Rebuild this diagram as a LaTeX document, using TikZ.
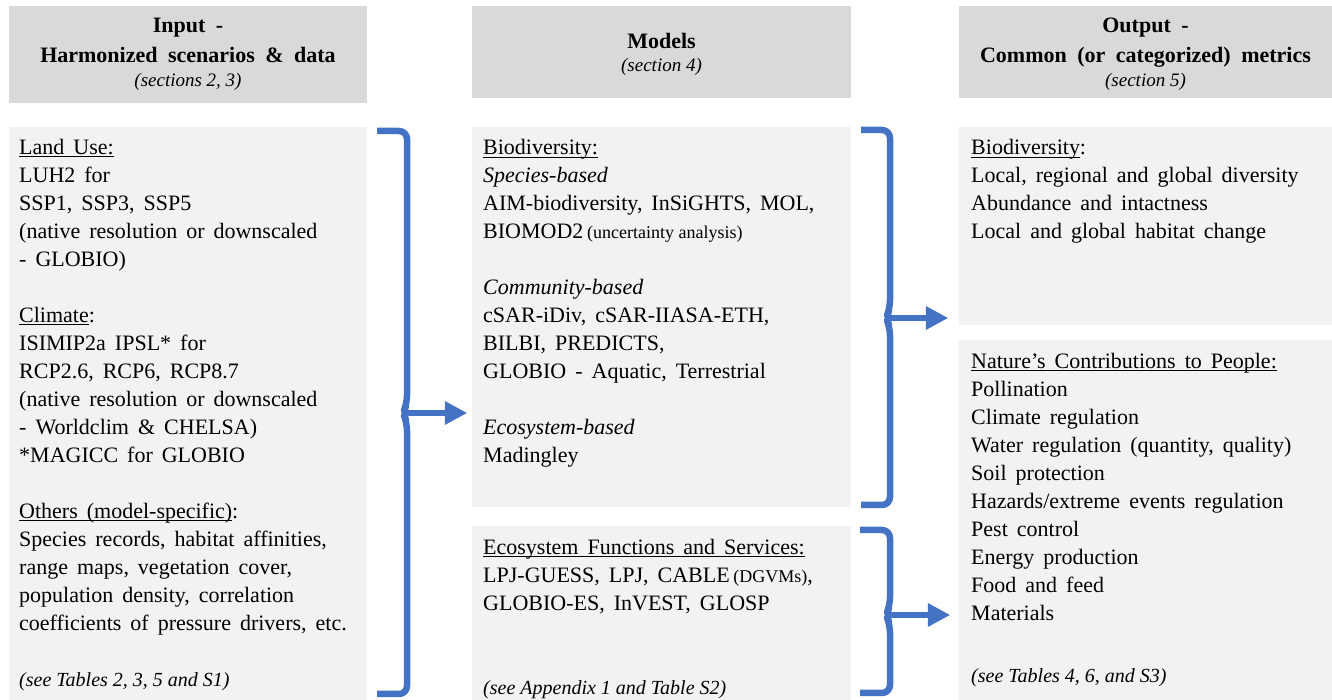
\documentclass[tikz,border=0pt]{standalone}
\usepackage{fontspec}
\setmainfont{Liberation Serif}
\usetikzlibrary{arrows.meta}
\definecolor{hdrgray}{HTML}{D9D9D9}
\definecolor{boxgray}{HTML}{F2F2F2}
\definecolor{braceblue}{HTML}{4472C4}
\newsavebox\undlbox
\newcommand{\undl}[1]{\sbox\undlbox{#1}\rlap{\rule[-3bp]{\wd\undlbox}{1.2bp}}\usebox\undlbox}
\newcommand{\bodyfont}{\fontsize{22bp}{28bp}\selectfont\spaceskip=9bp plus 1bp minus 1bp\relax}
\newcommand{\hdrfont}{\fontsize{22bp}{28bp}\selectfont\bfseries\spaceskip=10.5bp plus 1bp minus 1bp\relax}
\newcommand{\notetxt}[1]{{\fontsize{20bp}{28bp}\selectfont\itshape\spaceskip=0pt\relax #1}}
\newcommand{\hdrnote}[1]{{\fontsize{19bp}{28bp}\selectfont\mdseries\itshape\spaceskip=0pt\relax #1}}
\newcommand{\smalltxt}[1]{{\fontsize{18bp}{28bp}\selectfont\spaceskip=0pt\relax #1}}
\begin{document}
\begin{tikzpicture}[line join=round,
  hdrbox/.style={fill=hdrgray,inner sep=0pt},
  bodybox/.style={fill=boxgray,inner sep=0pt},
  bodytext/.style={anchor=base west,align=left,inner sep=0pt,font=\bodyfont},
  hdrtext/.style={anchor=base,align=center,inner sep=0pt,font=\hdrfont},
  brace/.style={draw=braceblue,line width=6.5bp,rounded corners=8bp},
  bracearrow/.style={draw=braceblue,line width=6.5bp,-{Triangle[length=22bp,width=24bp,line width=0pt]}}]
%%
\useasboundingbox (0bp,0bp) rectangle (1332bp,700bp);
%% headers (text nodes sit on their last baseline)
\begin{scope}
  \node (inhead) at (188bp,645.5bp) [hdrbox,minimum width=358bp,minimum height=97bp] {};
  \node (mhead) at (661.5bp,648bp) [hdrbox,minimum width=379bp,minimum height=92bp] {};
  \node (ohead) at (1145.5bp,648bp) [hdrbox,minimum width=373bp,minimum height=92bp] {};
  \node (inheadtxt) at (188bp,613bp) [hdrtext] {Input -\\[2bp]Harmonized scenarios \& data\\[-4bp]\hdrnote{(sections 2, 3)}};
  \node (mheadtxt) at (661.5bp,628bp) [hdrtext] {Models\\[-5bp]\hdrnote{(section 4)}};
  \node (oheadtxt) at (1145.5bp,613bp) [hdrtext] {Output -\\[2bp]Common (or categorized) metrics\\[-4bp]\hdrnote{(section 5)}};
\end{scope}
%% boxes
\begin{scope}
  \node (inbody) at (188bp,286.5bp) [bodybox,minimum width=358bp,minimum height=573bp] {};
  \node (mbio) at (661.5bp,383bp) [bodybox,minimum width=379bp,minimum height=380bp] {};
  \node (mess) at (661.5bp,87bp) [bodybox,minimum width=379bp,minimum height=174bp] {};
  \node (obio) at (1145.5bp,474bp) [bodybox,minimum width=373bp,minimum height=198bp] {};
  \node (oncp) at (1145.5bp,180bp) [bodybox,minimum width=373bp,minimum height=360bp] {};
\end{scope}
%% texts
\node (intxt) at (19bp,14bp) [bodytext] {\undl{Land Use:}\\
  LUH2 for\\
  SSP1, SSP3, SSP5\\
  (native resolution or downscaled\\
  - GLOBIO)\\[28bp]
  \undl{Climate}:\\
  ISIMIP2a IPSL* for\\
  RCP2.6, RCP6, RCP8.7\\
  (native resolution or downscaled\\
  - Worldclim \& CHELSA)\\
  *MAGICC for GLOBIO\\[28bp]
  \undl{Others (model-specific)}:\\
  Species records, habitat affinities,\\
  range maps, vegetation cover,\\
  population density, correlation\\
  coefficients of pressure drivers, etc.\\[28bp]
  \notetxt{(see Tables 2, 3, 5 and S1)}};
\node (mbiotxt) at (483bp,237bp) [bodytext] {\undl{Biodiversity:}\\
  \textit{Species-based}\\
  AIM-biodiversity, InSiGHTS, MOL,\\
  BIOMOD2\,\smalltxt{(uncertainty analysis)}\\[28bp]
  \textit{Community-based}\\
  cSAR-iDiv, cSAR-IIASA-ETH,\\
  BILBI, PREDICTS,\\
  GLOBIO - Aquatic, Terrestrial\\[28bp]
  \textit{Ecosystem-based}\\
  Madingley};
\node (messtxt) at (483bp,6bp) [bodytext] {\undl{Ecosystem Functions and Services:}\\
  LPJ-GUESS, LPJ, CABLE\,\smalltxt{(DGVMs)},\\
  GLOBIO-ES, InVEST, GLOSP\\[56bp]
  \notetxt{(see Appendix 1 and Table S2)}};
\node (obiotxt) at (971bp,461bp) [bodytext] {\undl{Biodiversity}:\\
  Local, regional and global diversity\\
  Abundance and intactness\\
  Local and global habitat change};
\node (oncptxt) at (971bp,18bp) [bodytext] {\undl{Nature’s Contributions to People:}\\
  Pollination\\
  Climate regulation\\
  Water regulation (quantity, quality)\\
  Soil protection\\
  Hazards/extreme events regulation\\
  Pest control\\
  Energy production\\
  Food and feed\\
  Materials\\[34bp]
  \notetxt{(see Tables 4, 6, and S3)}};
%% braces
\coordinate (j1) at (403bp,287bp);
\coordinate (j2) at (886bp,382bp);
\coordinate (j3) at (886bp,85bp);
\draw [brace] (377bp,569bp) -- (407bp,569bp) -- (407bp,297bp) -- (j1) -- (407bp,277bp) -- (407bp,6bp) -- (377bp,6bp);
\draw [brace] (861bp,570bp) -- (890bp,570bp) -- (890bp,392bp) -- (j2) -- (890bp,372bp) -- (890bp,195bp) -- (861bp,195bp);
\draw [brace] (860bp,170bp) -- (890bp,170bp) -- (890bp,95bp) -- (j3) -- (890bp,75bp) -- (890bp,7bp) -- (860bp,7bp);
\draw [bracearrow,shorten >=5bp] (j1) -- (j1 -| mbio.west);
\draw [bracearrow,shorten >=11bp] (j2) -- (j2 -| obio.west);
\draw [bracearrow,shorten >=9bp] (j3) -- (j3 -| oncp.west);
%
\end{tikzpicture}
\end{document}
